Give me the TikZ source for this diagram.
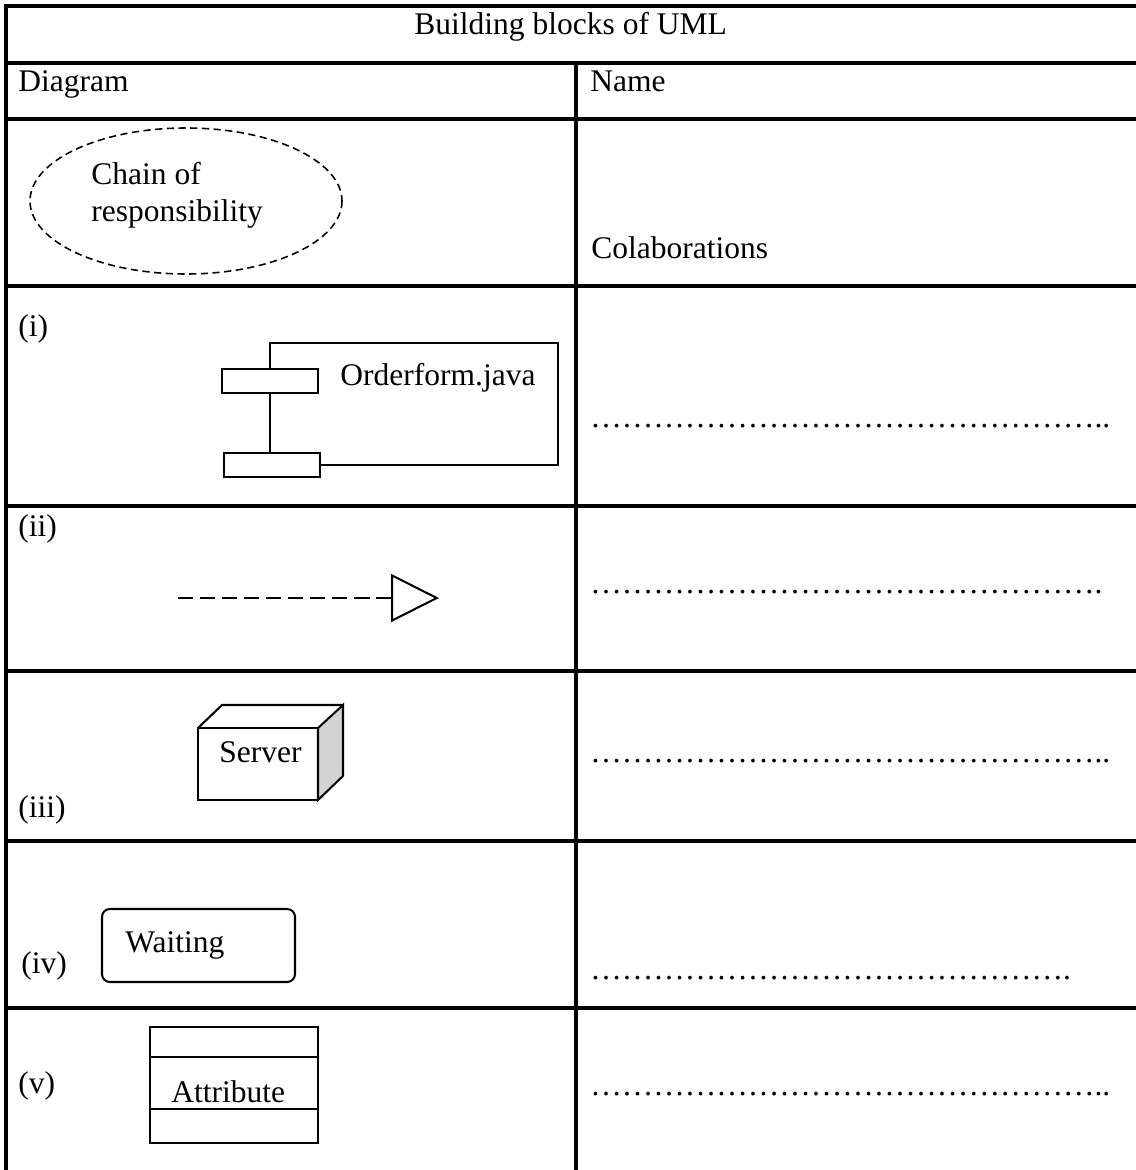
\documentclass[tikz,border=0pt]{standalone}
\usepackage{fontspec}
\setmainfont{Liberation Serif}
\usetikzlibrary{arrows.meta,positioning,calc}
\definecolor{sideface}{RGB}{211,211,211}
\newcommand\dotrun[1]{\foreach \k in {1,...,#1}{…}}

\begin{document}
\begin{tikzpicture}[x=0.4444pt, y=-0.4444pt,
        grid/.style={line width=1.35pt, line cap=rect},
        figline/.style={line width=0.9pt},
        txt/.style={anchor=base west, inner sep=0pt, font=\fontsize{14}{17}\selectfont},
        part/.style={draw, figline, inner sep=0pt, minimum width=42.7pt, minimum height=10.7pt}]
        \useasboundingbox (0,0) rectangle (1135,1170);

        % table rules
        \foreach \y in {6,63,119,286,506,671,841,1008}
            \draw[grid] (6,\y) -- (1140,\y);
        \draw[grid] (6,6) -- (6,1175);
        \draw[grid] (576,63) -- (576,1175);

        % heads
        \node[txt]      (title) at (414,35)     {Building blocks of UML};
        \node[txt]      (diag)  at (18,92)      {Diagram};
        \node[txt]      (name)  at (590,92)     {Name};

        % collaboration
        \draw[line width=0.7pt, dash pattern=on 3.2pt off 2pt] (186,201) ellipse (156 and 73);
        \node[txt]      (chain) at (91,185)     {Chain of};
        \node[txt]      (resp)  at (91,222)     {responsibility};
        \node[txt]      (colab) at (591,259)    {Colaborations};

        % (i) component
        \node[txt]      (ri)    at (18,336)     {(i)};
        \node[part]     (upper) at (270,381)    {};
        \node[part]     (lower) at (272,465)    {};
        \draw[figline] (upper.south) -- (upper.south |- lower.north);
        \draw[figline] (upper.north) -- (270,343) -- (558,343) -- (558,465) -- (lower.east);
        \node[txt]      (order) at (340,385)    {Orderform.java};
        \node[txt]      (ansi)  at (590,427)    {\dotrun{16}..};

        % (ii) realization
        \node[txt]      (rii)   at (18,536)     {(ii)};
        \coordinate (tail) at (178,598);
        \coordinate (head) at (439,598);
        \draw[figline, dash pattern=on 6.7pt off 3.1pt,
              -{Triangle[open, length=21.3pt, width=21.3pt, line width=0.9pt]}] (tail) -- (head);
        \node[txt]      (ansii) at (590,593)    {\dotrun{16}.};

        % (iii) node
        \node[txt]      (riii)  at (18,817)     {(iii)};
        \draw[figline, fill=sideface] (318,728) -- (343,705) -- (343,776) -- (318,800) -- cycle;
        \draw[figline] (198,728) -- (222,705) -- (343,705);
        \draw[figline] (198,728) rectangle (318,800);
        \node[txt]      (server) at (219,762)   {Server};
        \node[txt]      (ansiii) at (590,762)   {\dotrun{16}..};

        % (iv) state
        \node[txt]      (riv)   at (21,973)     {(iv)};
        \draw[figline, rounded corners=3.5pt] (102,909) rectangle (295,982);
        \node[txt]      (wait)  at (125,952)    {Waiting};
        \node[txt]      (ansiv) at (590,979)    {\dotrun{15}.};

        % (v) class
        \node[txt]      (rv)    at (18,1093)    {(v)};
        \draw[figline] (150,1027) rectangle (318,1143);
        \draw[figline] (150,1057) -- (318,1057);
        \draw[figline] (150,1109) -- (318,1109);
        \node[txt]      (attr)  at (171,1102)   {Attribute};
        \node[txt]      (ansv)  at (590,1095)   {\dotrun{16}..};
\end{tikzpicture}
\end{document}
